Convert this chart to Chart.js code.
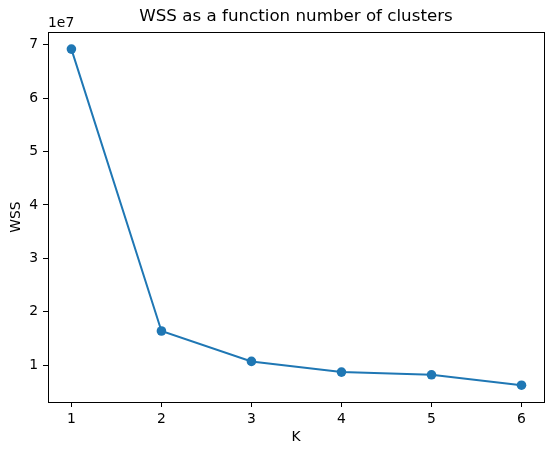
<!DOCTYPE html>
<html>
<head>
<meta charset="utf-8">
<script src="https://cdn.jsdelivr.net/npm/chart.js@4/dist/chart.umd.min.js"></script>
<style>
    html, body { margin: 0; padding: 0; background: #fff; }
    canvas { display: block; }
</style>
</head>
<body>
<canvas id="chart" width="554" height="455"></canvas>
<script>
const clusterCounts = [1, 2, 3, 4, 5, 6];
const wssValues = [6.92e7, 1.64e7, 1.07e7, 0.87e7, 0.82e7, 0.625e7];
const xTicks = [1, 2, 3, 4, 5, 6];
const yTicks = [1e7, 2e7, 3e7, 4e7, 5e7, 6e7, 7e7];

const titleText = 'WSS as a function number of clusters';
const xLabel = 'K';
const yLabel = 'WSS';
const offsetText = '1e7';

const FONT = '"DejaVu Sans", sans-serif';
const BLUE = '#1f77b4';

// frame, title, axis labels and the 1e7 offset, matplotlib style
const decorations = {
    id: 'decorations',
    afterDraw(chart) {
        const { ctx, chartArea: a } = chart;
        ctx.save();
        ctx.strokeStyle = '#000';
        ctx.lineWidth = 1;
        ctx.strokeRect(Math.round(a.left) + 0.5, Math.round(a.top) + 0.5,
            Math.round(a.right - a.left), Math.round(a.bottom - a.top));

        ctx.fillStyle = '#000';
        ctx.textBaseline = 'middle';
        ctx.textAlign = 'center';
        ctx.font = `16.7px ${FONT}`;
        ctx.fillText(titleText, (a.left + a.right) / 2, 17);

        ctx.font = `13.9px ${FONT}`;
        ctx.fillText(xLabel, (a.left + a.right) / 2, 437);

        ctx.textAlign = 'left';
        ctx.fillText(offsetText, a.left, 23);

        ctx.translate(16, (a.top + a.bottom) / 2);
        ctx.rotate(-Math.PI / 2);
        ctx.textAlign = 'center';
        ctx.fillText(yLabel, 0, 0);
        ctx.restore();
    },
};

new Chart(document.getElementById('chart').getContext('2d'), {
    type: 'line',
    data: {
        datasets: [
            {
                data: clusterCounts.map((k, i) => ({ x: k, y: wssValues[i] })),
                borderColor: BLUE,
                backgroundColor: BLUE,
                borderWidth: 2,
                pointRadius: 4.8,
                pointHoverRadius: 4.8,
                pointBorderWidth: 0,
                tension: 0,
            },
        ],
    },
    options: {
        responsive: false,
        animation: false,
        devicePixelRatio: 1,
        layout: { padding: { top: 32, right: 10, bottom: 0, left: 0 } },
        plugins: {
            legend: { display: false },
            tooltip: { enabled: false },
        },
        scales: {
            x: {
                type: 'linear',
                min: 0.74,
                max: 6.25,
                afterBuildTicks(scale) {
                    scale.ticks = xTicks.map((v) => ({ value: v }));
                },
                afterFit(scale) {
                    scale.height = 53;
                },
                grid: {
                    drawOnChartArea: false,
                    drawTicks: true,
                    tickLength: 5,
                    tickColor: '#000',
                },
                border: { display: false },
                ticks: {
                    color: '#000',
                    padding: 4,
                    font: { family: FONT, size: 13.9 },
                    maxRotation: 0,
                    callback: (v) => String(v),
                },
            },
            y: {
                type: 'linear',
                min: 0.31e7,
                max: 7.24e7,
                afterBuildTicks(scale) {
                    scale.ticks = yTicks.map((v) => ({ value: v }));
                },
                afterFit(scale) {
                    scale.width = 48;
                },
                grid: {
                    drawOnChartArea: false,
                    drawTicks: true,
                    tickLength: 5,
                    tickColor: '#000',
                },
                border: { display: false },
                ticks: {
                    color: '#000',
                    padding: 5,
                    font: { family: FONT, size: 13.9 },
                    callback: (v) => String(Math.round(v / 1e7)),
                },
            },
        },
    },
    plugins: [decorations],
});
</script>
</body>
</html>
